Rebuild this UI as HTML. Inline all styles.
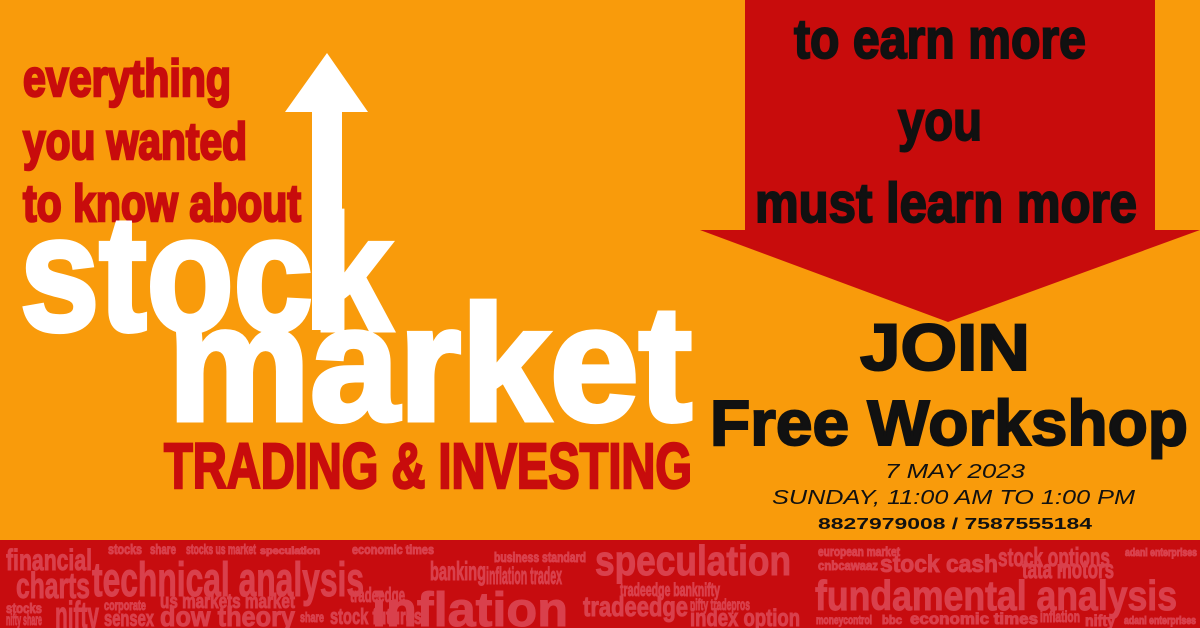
<!DOCTYPE html>
<html><head><meta charset="utf-8"><style>
html,body{margin:0;padding:0;width:1200px;height:628px;overflow:hidden;background:#f99b0b}
svg{display:block}
.c{font-family:"Liberation Sans Narrow","Liberation Sans",sans-serif;font-weight:bold}
.w{font-family:"Liberation Sans Narrow","Liberation Sans",sans-serif;font-weight:bold;fill:#d9404c;stroke:#d9404c;stroke-width:1}
</style></head><body>
<svg width="1200" height="628" viewBox="0 0 1200 628">
<rect x="0" y="0" width="1200" height="628" fill="#f99b0b"/>
<polygon points="745,0 1155,0 1155,230 1200,230 948,322 700,230 745,230" fill="#c80c0c"/>
<g class="c" fill="#111" stroke="#111" stroke-width="2" text-anchor="middle">
<text x="940" y="58" font-size="56" textLength="292" lengthAdjust="spacingAndGlyphs">to earn more</text>
<text x="940" y="140" font-size="56" textLength="84" lengthAdjust="spacingAndGlyphs">you</text>
<text x="946" y="222" font-size="56" textLength="382" lengthAdjust="spacingAndGlyphs">must learn more</text>
</g>
<polygon points="327,53 368,112 342,112 342,330 312,330 312,112 285,112" fill="#fff"/>
<g class="c" fill="#c80c0c" stroke="#c80c0c" stroke-width="2.5">
<text x="23" y="96" font-size="52" textLength="208" lengthAdjust="spacingAndGlyphs">everything</text>
<text x="23" y="159" font-size="52" textLength="224" lengthAdjust="spacingAndGlyphs">you wanted</text>
<text x="23" y="221" font-size="52" textLength="278" lengthAdjust="spacingAndGlyphs">to know about</text>
</g>
<text x="20" y="330" font-family="Liberation Sans,sans-serif" font-weight="bold" font-size="164" fill="#fff" stroke="#fff" stroke-width="5" textLength="372" lengthAdjust="spacingAndGlyphs">stock</text>
<text x="168" y="420" font-family="Liberation Sans,sans-serif" font-weight="bold" font-size="164" fill="#fff" stroke="#fff" stroke-width="5" textLength="524" lengthAdjust="spacingAndGlyphs">market</text>
<text x="164" y="488" class="c" font-size="64" fill="#c80c0c" stroke="#c80c0c" stroke-width="2.5" textLength="528" lengthAdjust="spacingAndGlyphs">TRADING &amp; INVESTING</text>
<text x="860" y="370" font-family="Liberation Sans,sans-serif" font-weight="900" font-size="66" fill="#111" textLength="170" lengthAdjust="spacingAndGlyphs" stroke="#111" stroke-width="2">JOIN</text>
<text x="710" y="445" font-family="Liberation Sans,sans-serif" font-weight="900" font-size="64" fill="#111" textLength="478" lengthAdjust="spacingAndGlyphs" stroke="#111" stroke-width="2">Free Workshop</text>
<text x="885" y="478" font-family="Liberation Sans,sans-serif" font-style="italic" font-size="20" fill="#111" textLength="140" lengthAdjust="spacingAndGlyphs">7 MAY 2023</text>
<text x="772" y="504" font-family="Liberation Sans,sans-serif" font-style="italic" font-size="20" fill="#111" textLength="363" lengthAdjust="spacingAndGlyphs">SUNDAY, 11:00 AM TO 1:00 PM</text>
<text x="818" y="529" font-family="Liberation Sans,sans-serif" font-weight="bold" font-size="16" fill="#111" textLength="274" lengthAdjust="spacingAndGlyphs">8827979008 / 7587555184</text>
<rect x="0" y="540" width="1200" height="88" fill="#c70c0f"/>
<g>
<text class="w" x="6" y="570" font-size="30" textLength="86" lengthAdjust="spacingAndGlyphs">financial</text>
<text class="w" x="16" y="598" font-size="36" textLength="74" lengthAdjust="spacingAndGlyphs">charts</text>
<text class="w" x="6" y="625" font-size="16" textLength="36" lengthAdjust="spacingAndGlyphs">nifty share</text>
<text class="w" x="6" y="613" font-size="14" textLength="36" lengthAdjust="spacingAndGlyphs">stocks</text>
<text class="w" x="55" y="628" font-size="38" textLength="44" lengthAdjust="spacingAndGlyphs">nifty</text>
<text class="w" x="108" y="554" font-size="14" textLength="34" lengthAdjust="spacingAndGlyphs">stocks</text>
<text class="w" x="150" y="554" font-size="14" textLength="26" lengthAdjust="spacingAndGlyphs">share</text>
<text class="w" x="186" y="554" font-size="14" textLength="70" lengthAdjust="spacingAndGlyphs">stocks us market</text>
<text class="w" x="260" y="554" font-size="10" textLength="60" lengthAdjust="spacingAndGlyphs">speculation</text>
<text class="w" x="92" y="596" font-size="48" textLength="272" lengthAdjust="spacingAndGlyphs">technical analysis</text>
<text class="w" x="104" y="610" font-size="14" textLength="42" lengthAdjust="spacingAndGlyphs">corporate</text>
<text class="w" x="104" y="626" font-size="22" textLength="50" lengthAdjust="spacingAndGlyphs">sensex</text>
<text class="w" x="160" y="626" font-size="28" textLength="135" lengthAdjust="spacingAndGlyphs">dow theory</text>
<text class="w" x="160" y="608" font-size="20" textLength="135" lengthAdjust="spacingAndGlyphs">us markets market</text>
<text class="w" x="300" y="622" font-size="14" textLength="24" lengthAdjust="spacingAndGlyphs">share</text>
<text class="w" x="330" y="624" font-size="22" textLength="92" lengthAdjust="spacingAndGlyphs">stock futures</text>
<text class="w" x="350" y="602" font-size="20" textLength="55" lengthAdjust="spacingAndGlyphs">tradeedge</text>
<text class="w" x="352" y="554" font-size="13" textLength="82" lengthAdjust="spacingAndGlyphs">economic times</text>
<text class="w" x="430" y="580" font-size="26" textLength="56" lengthAdjust="spacingAndGlyphs">banking</text>
<text class="w" x="486" y="584" font-size="24" textLength="76" lengthAdjust="spacingAndGlyphs">inflation tradex</text>
<text class="w" x="494" y="562" font-size="14" textLength="92" lengthAdjust="spacingAndGlyphs">business standard</text>
<text class="w" x="372" y="626" font-size="48" textLength="196" lengthAdjust="spacingAndGlyphs">inflation</text>
<text class="w" x="595" y="575" font-size="42" textLength="196" lengthAdjust="spacingAndGlyphs">speculation</text>
<text class="w" x="583" y="616" font-size="28" textLength="105" lengthAdjust="spacingAndGlyphs">tradeedge</text>
<text class="w" x="620" y="596" font-size="18" textLength="100" lengthAdjust="spacingAndGlyphs">tradeedge banknifty</text>
<text class="w" x="690" y="610" font-size="16" textLength="60" lengthAdjust="spacingAndGlyphs">nifty tradepros</text>
<text class="w" x="690" y="626" font-size="24" textLength="110" lengthAdjust="spacingAndGlyphs">index option</text>
<text class="w" x="818" y="556" font-size="13" textLength="82" lengthAdjust="spacingAndGlyphs">european market</text>
<text class="w" x="818" y="570" font-size="13" textLength="60" lengthAdjust="spacingAndGlyphs">cnbcawaaz</text>
<text class="w" x="880" y="572" font-size="24" textLength="118" lengthAdjust="spacingAndGlyphs">stock cash</text>
<text class="w" x="998" y="566" font-size="26" textLength="112" lengthAdjust="spacingAndGlyphs">stock options</text>
<text class="w" x="1022" y="578" font-size="26" textLength="92" lengthAdjust="spacingAndGlyphs">tata motors</text>
<text class="w" x="1125" y="556" font-size="11" textLength="72" lengthAdjust="spacingAndGlyphs">adani enterprises</text>
<text class="w" x="815" y="610" font-size="42" textLength="362" lengthAdjust="spacingAndGlyphs">fundamental analysis</text>
<text class="w" x="816" y="624" font-size="12" textLength="56" lengthAdjust="spacingAndGlyphs">moneycontrol</text>
<text class="w" x="882" y="624" font-size="12" textLength="20" lengthAdjust="spacingAndGlyphs">bbc</text>
<text class="w" x="910" y="624" font-size="16" textLength="128" lengthAdjust="spacingAndGlyphs">economic times</text>
<text class="w" x="1040" y="622" font-size="16" textLength="40" lengthAdjust="spacingAndGlyphs">inflation</text>
<text class="w" x="1085" y="626" font-size="16" textLength="30" lengthAdjust="spacingAndGlyphs">nifty</text>
<text class="w" x="1124" y="624" font-size="11" textLength="72" lengthAdjust="spacingAndGlyphs">adani enterprises</text>
</g>
</svg>
</body></html>
